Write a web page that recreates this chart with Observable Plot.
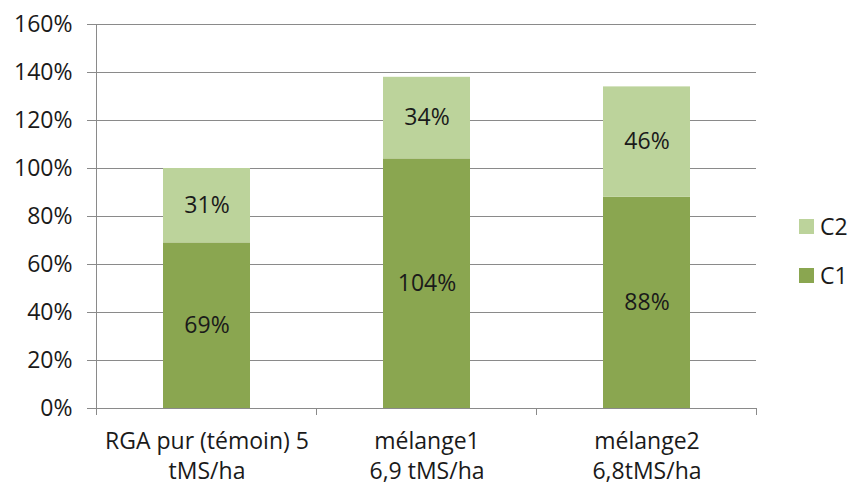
<!DOCTYPE html>
<html>
<head>
<meta charset="utf-8">
<script src="https://cdn.jsdelivr.net/npm/d3@7"></script>
<script src="https://cdn.jsdelivr.net/npm/@observablehq/plot@0.6"></script>
<style>
  body { margin: 0; background: #fff; font-family: "Open Sans", sans-serif; }
  #chart { position: relative; width: 848px; height: 484px; }
  .legend-item { position: absolute; left: 799px; display: flex; align-items: center; font-size: 23px; color: #1a1a1a; line-height: 1; }
  .legend-item .sw { width: 15px; height: 15px; margin-right: 6px; }
</style>
</head>
<body>
<div id="chart"></div>
<script>
// Categories (two-line labels) and the two cuts stacked in each bar
const categories = ["RGA pur (témoin) 5\ntMS/ha", "mélange1\n6,9 tMS/ha", "mélange2\n6,8tMS/ha"];
const series = ["C1", "C2"];
const c1Values = [0.69, 1.04, 0.88];
const c2Values = [0.31, 0.34, 0.46];
const yTicks = [0, 0.2, 0.4, 0.6, 0.8, 1.0, 1.2, 1.4, 1.6];
const seriesColors = ["#8aa650", "#bcd39b"];

const rows = categories.flatMap((category, i) => [
  {category, series: "C1", value: c1Values[i]},
  {category, series: "C2", value: c2Values[i]}
]);

const pct = d3.format(".0%");
const gridColor = "#8a8a8a";

const chart = Plot.plot({
  width: 848,
  height: 484,
  marginLeft: 96,
  marginRight: 92,
  marginTop: 24,
  marginBottom: 76,
  style: {fontFamily: '"Open Sans", sans-serif', fontSize: "23px", color: "#1a1a1a", background: "#fff", overflow: "visible"},
  x: {domain: categories, paddingInner: 0.605, paddingOuter: 0.3025, label: null},
  y: {domain: [0, 1.6], label: null},
  color: {domain: series, range: seriesColors},
  marks: [
    Plot.gridY(yTicks, {stroke: gridColor, strokeOpacity: 1}),
    Plot.axisY(yTicks, {tickFormat: pct, tickSize: 9, tickPadding: 15, stroke: gridColor, fill: "#1a1a1a", label: null}),
    Plot.barY(rows, {x: "category", y: "value", fill: "series"}),
    Plot.text(rows, Plot.stackY({x: "category", y: "value", z: "series", text: d => pct(d.value), fill: "#1a1a1a"})),
    Plot.axisX({tickSize: 0, tickPadding: 19, lineHeight: 1.3, label: null, fill: "#1a1a1a"}),
    Plot.ruleY([0], {stroke: gridColor}),
    Plot.frame({anchor: "left", stroke: gridColor})
  ]
});

// Tick marks on the category axis sit at the boundaries between categories
const xs = chart.scale("x");
const ys = chart.scale("y");
const step = xs.step ?? xs.bandwidth / (1 - 0.605);
const edges = xs.domain.map(c => xs.apply(c) + xs.bandwidth / 2 - step / 2);
edges.push(edges[edges.length - 1] + step);
const y0 = ys.apply(0);
d3.select(chart).append("g")
  .attr("stroke", gridColor)
  .selectAll("line")
  .data(edges)
  .join("line")
  .attr("x1", d => d).attr("x2", d => d)
  .attr("y1", y0).attr("y2", y0 + 7);

const container = document.getElementById("chart");
container.appendChild(chart);

// Legend, top entry is the upper stack segment
const legendTops = {C2: 219, C1: 268};
for (const s of ["C2", "C1"]) {
  const item = document.createElement("div");
  item.className = "legend-item";
  item.style.top = (legendTops[s] - 4) + "px";
  const sw = document.createElement("span");
  sw.className = "sw";
  sw.style.background = seriesColors[series.indexOf(s)];
  const label = document.createElement("span");
  label.textContent = s;
  item.appendChild(sw);
  item.appendChild(label);
  container.appendChild(item);
}
</script>
</body>
</html>
